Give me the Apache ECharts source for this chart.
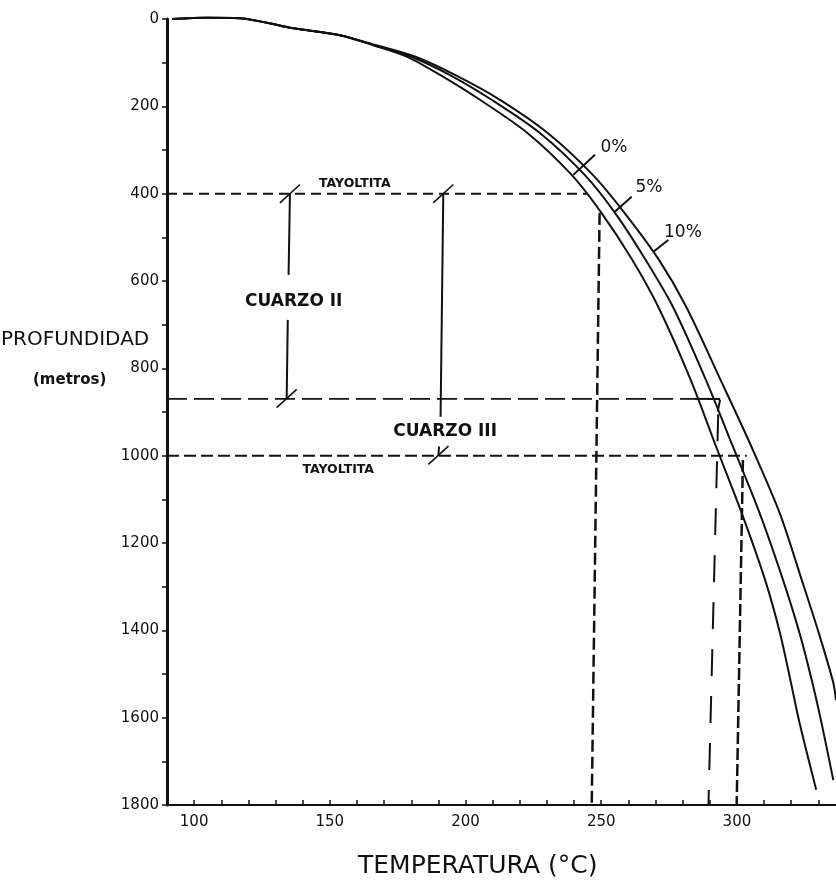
<!DOCTYPE html>
<html>
<head>
<meta charset="utf-8">
<script src="https://cdn.jsdelivr.net/npm/echarts@6/dist/echarts.min.js"></script>
<style>
html,body{margin:0;padding:0;background:#fff;}
#c{width:836px;height:891px;}
</style>
</head>
<body>
<div id="c"></div>
<script>
// ---- data (temperature °C, depth m) ----
var xTickLabels = [100, 150, 200, 250, 300];
var yTickLabels = [0, 200, 400, 600, 800, 1000, 1200, 1400, 1600, 1800];

// salinity curves: [temperature, depth]
var curve0 = [[91.9,0],[104.6,-3],[116.8,-2],[135.3,20],[153.7,37],[166,60],[178.3,86],[190.6,128],[205.3,185],[223,262],[239.1,357],[250.2,445],[261.3,550],[271,659],[283,827],[292.3,979],[301.8,1132],[310.4,1285],[315.9,1407],[319.9,1520],[323.1,1613],[329.2,1765]];
var curve5 = [[91.9,0],[104.6,-3],[116.8,-2],[135.3,20],[153.7,37],[166.3,60],[179.8,86],[194.1,128],[209.6,185],[227.6,262],[243.9,357],[255.2,445],[266.2,550],[276.4,659],[288.6,827],[298.5,979],[308.4,1132],[317,1285],[323.1,1407],[327.8,1520],[331.2,1613],[335.5,1743]];
var curve10 = [[91.9,0],[104.6,-3],[116.8,-2],[135.3,20],[153.7,37],[166.5,59],[181.3,86],[196.1,128],[212.7,185],[230.5,262],[246.9,357],[258.7,445],[271.1,550],[281.3,659],[294,827],[305.3,979],[315.8,1132],[323.9,1285],[330.2,1407],[335.5,1520],[336.5,1560]];

// reference (dashed) lines
var ref400 = [[90,400],[245,400]];
var ref870 = [[90,870],[293.8,870]];
var ref870solid = [[284.6,870],[293.8,870]];
var ref1000 = [[90,1000],[303.6,1000]];
var vert250 = [[249.4,444],[246.5,1800]];
var vert290 = [[293.1,905],[289.5,1800]];
var vert290corner = [[293.8,872],[292.9,899]];
var vert300 = [[302.2,1010],[299.9,1800]];

// quartz ranges (solid verticals)
var cuarzo2a = [[135.3,400],[134.8,586]];
var cuarzo2b = [[134.5,689],[134.1,869]];
var cuarzo3a = [[191.8,400],[190.8,911]];
var cuarzo3b = [[190.2,979],[190,1000]];

var slashes = [
  [[131.6,421],[139.0,379]],
  [[188.1,421],[195.5,379]],
  [[130.4,890],[137.8,848]],
  [[186.3,1020],[193.7,978]]
];
var leaders = [
  [[247.7,311],[239.7,357]],
  [[261.2,407],[255.1,441]],
  [[274.7,506],[269.2,533]]
];

var pctLabels = [
  {name:'0%', value:[254.7,295]},
  {name:'5%', value:[267.6,385]},
  {name:'10%', value:[280.1,488]}
];
var smallLabels = [
  {name:'TAYOLTITA', value:[159.2,378]},
  {name:'TAYOLTITA', value:[153.1,1033]}
];
var quartzLabels = [
  {name:'CUARZO II', value:[136.7,647]},
  {name:'CUARZO III', value:[192.5,945]}
];

var INK = '#111';
var FONT = 'DejaVu Sans';

function seg(data, width, type) {
  return {
    type:'line', data:data, symbol:'none', silent:true, clip:false,
    animation:false, lineStyle:{color:INK, width:width, type:type||'solid'}
  };
}
function curve(data) {
  return {
    type:'line', data:data, symbol:'none', smooth:0.3, silent:true, clip:false,
    animation:false, lineStyle:{color:INK, width:2}
  };
}
function labels(data, size, weight) {
  return {
    type:'scatter', data:data, symbol:'circle', symbolSize:0.01, silent:true, animation:false,
    itemStyle:{color:'#ffffff', opacity:1},
    label:{show:true, position:'inside', formatter:'{b}', color:INK, opacity:1,
      textBorderWidth:0, fontFamily:FONT, fontSize:size, fontWeight:weight||'normal'}
  };
}

var series = [
  curve(curve0), curve(curve5), curve(curve10),
  seg(ref400, 2, [10,6]),
  seg(ref870, 1.6, [20,7]),
  seg(ref870solid, 2),
  seg(ref1000, 2, [12,5]),
  seg(vert250, 2.5, [12,5]),
  seg(vert290, 2, [27,20]),
  seg(vert290corner, 2),
  seg(vert300, 2.5, [12,4]),
  seg(cuarzo2a, 2), seg(cuarzo2b, 2),
  seg(cuarzo3a, 2), seg(cuarzo3b, 2),
  labels(pctLabels, 17),
  labels(smallLabels, 12.5, 'bold'),
  labels(quartzLabels, 17, 'bold')
];
slashes.forEach(function(s){ series.push(seg(s, 1.6)); });
leaders.forEach(function(s){ series.push(seg(s, 2)); });

var chart = echarts.init(document.getElementById('c'), null, {renderer:'canvas'});
chart.setOption({
  backgroundColor:'#fff',
  animation:false,
  grid:{left:167, right:0, top:19, bottom:86, containLabel:false},
  xAxis:{
    type:'value', min:90, max:336.5, interval:10,
    axisLine:{onZero:false, lineStyle:{color:INK, width:2}},
    axisTick:{inside:true, length:5, lineStyle:{color:INK, width:1.5}},
    splitLine:{show:false},
    axisLabel:{
      margin:10, color:INK, fontFamily:FONT, fontSize:15,
      showMinLabel:false, showMaxLabel:false,
      formatter:function(v){ return xTickLabels.indexOf(v) >= 0 ? String(v) : ''; }
    }
  },
  yAxis:{
    type:'value', inverse:true, min:0, max:1800, interval:100,
    axisLine:{onZero:false, lineStyle:{color:INK, width:3}},
    axisTick:{length:5, lineStyle:{color:INK, width:1.5}},
    splitLine:{show:false},
    axisLabel:{
      margin:8, color:INK, fontFamily:FONT, fontSize:15,
      formatter:function(v){ return yTickLabels.indexOf(v) >= 0 ? String(v) : ''; }
    }
  },
  graphic:[
    {type:'text', left:1, top:330, style:{text:'PROFUNDIDAD', fill:INK, font:'20px "DejaVu Sans"'}},
    {type:'text', left:33, top:373, style:{text:'(metros)', fill:INK, font:'bold 15px "DejaVu Sans"'}},
    {type:'text', left:358, top:854, style:{text:'TEMPERATURA (°C)', fill:INK, font:'25px "DejaVu Sans"'}}
  ],
  series:series
});
</script>
</body>
</html>
